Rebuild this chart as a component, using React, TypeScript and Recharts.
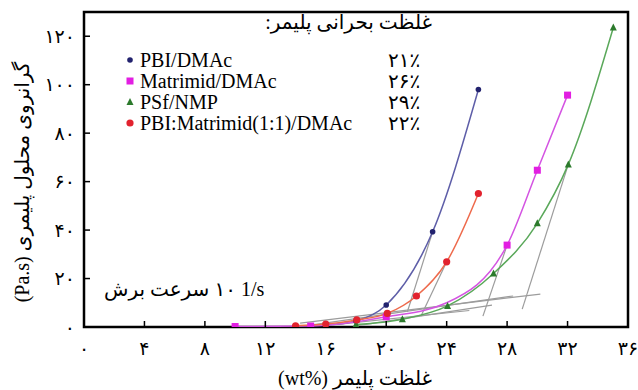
import { LineChart, Line, XAxis, YAxis, ReferenceArea, ReferenceLine } from 'recharts'

// measured points (wt% , Pa.s)
const pbiX = [16, 18, 20, 23.07, 26.1]
const pbiY = [0.8, 2.5, 9.1, 39.3, 98]
const matX = [10, 15, 20, 24, 28, 30, 32]
const matY = [0.2, 0.4, 4.2, 10, 33.8, 64.7, 95.7]
const matMarked = [true, true, true, false, true, true, true]
const psfX = [18, 21.07, 24.06, 27.1, 30, 32.05, 35.03]
const psfY = [1.0, 3.2, 8.7, 22.1, 42.8, 67.1, 123.6]
const blendX = [14, 16, 18.05, 20.07, 22, 24, 26.1]
const blendY = [0.5, 1.2, 2.9, 5.6, 12.8, 26.9, 55.1]

const seriesNames = ['PBI/DMAc', 'Matrimid/DMAc', 'PSf/NMP', 'PBI:Matrimid(1:1)/DMAc']
const criticalPct = [21, 26, 29, 22]

// tangent construction lines: [x1, y1, x2, y2]
const tangents = [
  [21.4, 6.3, 23.07, 39.3],
  [22.3, 4.5, 24, 26.9],
  [26.4, 4.5, 28, 33.8],
  [29.0, 7.4, 32.05, 67.1],
  [16, 0.6, 25.5, 6.8],
  [15, 0.8, 28.4, 12.8],
  [14.3, 1.6, 30.2, 13.6],
  [18, 0.5, 27, 9],
]

const xTicks = [0, 4, 8, 12, 16, 20, 24, 28, 32, 36]
const yTicks = [0, 20, 40, 60, 80, 100, 120]

const toFa = (n: number) => String(n).replace(/\d/g, d => '۰۱۲۳۴۵۶۷۸۹'[+d])

const SERIF = '"Liberation Serif", "DejaVu Sans", serif'

type Shape = 'circle' | 'square' | 'triangle' | 'dot'

const STYLE: { line: string; mark: string; shape: Shape }[] = [
  { line: '#5e5ea8', mark: '#22226e', shape: 'dot' },
  { line: '#d454e2', mark: '#e21ee2', shape: 'square' },
  { line: '#5aa85a', mark: '#2c7a2c', shape: 'triangle' },
  { line: '#ee6a4c', mark: '#e2222e', shape: 'circle' },
]

const zip = (xs: number[], ys: number[], marked?: boolean[]) =>
  xs.map((x, i) => ({ x, y: ys[i], m: marked ? marked[i] : true }))

const SERIES = [
  zip(pbiX, pbiY),
  zip(matX, matY, matMarked),
  zip(psfX, psfY),
  zip(blendX, blendY),
]

function Marker({ cx, cy, shape, color }: { cx: number; cy: number; shape: Shape; color: string }) {
  if (shape === 'square') return <rect x={cx - 3.5} y={cy - 3.5} width={7} height={7} fill={color} />
  if (shape === 'triangle')
    return <polygon points={`${cx},${cy - 4} ${cx - 3.5},${cy + 3} ${cx + 3.5},${cy + 3}`} fill={color} />
  if (shape === 'dot') return <circle cx={cx} cy={cy} r={2.8} fill={color} />
  return <circle cx={cx} cy={cy} r={3.6} fill={color} />
}

const abs = (left: number, top: number, extra: any = {}) => ({
  position: 'absolute' as const, left, top, fontFamily: SERIF, fontSize: 20, lineHeight: '20px',
  color: '#000', whiteSpace: 'nowrap' as const, ...extra,
})

export default function App() {
  return (
    <div style={{ position: 'absolute', left: 0, top: 0, width: 638, height: 390, background: '#fff' }}>
      <LineChart width={638} height={390} margin={{ top: 12, right: 10, left: 0, bottom: 0 }}>
        <XAxis
          type="number" dataKey="x" domain={[0, 36]} ticks={xTicks} allowDataOverflow
          height={63} axisLine={false} tickSize={-6} tickMargin={21}
          tickLine={{ stroke: '#000', strokeWidth: 1.5 }}
          tick={{ fill: '#000', fontSize: 19, fontFamily: SERIF }}
          tickFormatter={toFa}
        />
        <YAxis
          type="number" dataKey="y" domain={[0, 130]} ticks={yTicks} allowDataOverflow
          width={84} axisLine={false} tickSize={-6} tickMargin={15}
          tickLine={{ stroke: '#000', strokeWidth: 1.5 }}
          tick={{ fill: '#000', fontSize: 19, fontFamily: SERIF }}
          tickFormatter={toFa}
        />
        {tangents.map((t, i) => (
          <ReferenceLine
            key={`t${i}`}
            segment={[{ x: t[0], y: t[1] }, { x: t[2], y: t[3] }]}
            stroke="#9c9c9c" strokeWidth={1.2}
          />
        ))}
        {SERIES.map((data, si) => (
          <Line
            key={seriesNames[si]}
            data={data}
            dataKey="y"
            type="monotone"
            stroke={STYLE[si].line}
            strokeWidth={1.5}
            isAnimationActive={false}
            activeDot={false}
            dot={(p: any) =>
              p.payload.m ? (
                <Marker key={`d${si}-${p.index}`} cx={p.cx} cy={p.cy} shape={STYLE[si].shape} color={STYLE[si].mark} />
              ) : (
                <g key={`d${si}-${p.index}`} />
              )
            }
          />
        ))}
        <ReferenceArea x1={0} x2={36} y1={0} y2={130} fill="none" stroke="#000" strokeWidth={2.5} />
      </LineChart>

      <div style={abs(0, 12, { width: 432 })}>
        <span style={{ position: 'absolute', right: 0, direction: 'rtl' }}>غلظت بحرانی پلیمر:</span>
      </div>
      {seriesNames.map((name, i) => {
        const top = [50, 71, 92, 113][i]
        return (
          <div key={name}>
            <svg style={{ position: 'absolute', left: 124, top: top + 3, width: 12, height: 14 }}>
              <Marker cx={6} cy={7} shape={STYLE[i].shape} color={STYLE[i].mark} />
            </svg>
            <div style={abs(140, top)}>{name}</div>
            <div style={abs(388, top)}>{toFa(criticalPct[i])}٪</div>
          </div>
        )
      })}

      <div style={abs(104, 279, { display: 'flex', gap: 5 })}>
        <span style={{ direction: 'rtl', unicodeBidi: 'isolate' }}>سرعت برش</span>
        <span>{toFa(10)} 1/s</span>
      </div>

      <div style={abs(200, 368, { width: 310, textAlign: 'center', direction: 'rtl' as const })}>
        غلظت پلیمر <bdi dir="ltr">(wt%)</bdi>
      </div>

      <div
        style={abs(22 - 150, 182 - 10, {
          width: 300, textAlign: 'center', direction: 'rtl' as const, transform: 'rotate(-90deg)',
        })}
      >
        گرانروی محلول پلیمری <bdi dir="ltr">(Pa.s)</bdi>
      </div>
    </div>
  )
}
